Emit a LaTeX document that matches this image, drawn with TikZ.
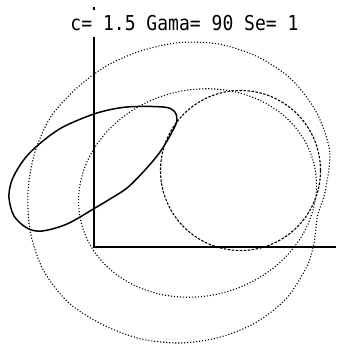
\documentclass[tikz,border=0pt]{standalone}
\usepackage{fontspec}
\newfontfamily\plotfont{DejaVu Sans Mono}[FakeStretch=0.88]
\tikzset{
  axisline/.style={line width=1.5pt},
  ellcurve/.style={line width=1.5pt,line join=round},
  dotcurve/.style={line width=1.1pt,dash pattern=on 1.1pt off 1.9pt},
  dashcurve/.style={line width=1.1pt,dash pattern=on 2.5pt off 1.5pt},
  titlelabel/.style={font=\plotfont\fontsize{20.5}{20.5}\selectfont,fill=white,inner xsep=2pt,minimum height=27pt},
}
\begin{document}
\begin{tikzpicture}[x=1pt,y=-1pt]
  \useasboundingbox (0,0) rectangle (336,344);

  \coordinate (origin) at (94,247);
  \coordinate (ytop) at (94,7);
  \coordinate (xend) at (336,247);
  \coordinate (ocenter) at (180,192);
  \coordinate (mcenter) at (197.5,193);
  \coordinate (ccenter) at (240.5,170.5);

  \draw[dotcurve,shift={(ocenter)}] plot[smooth cycle] coordinates {(0:145) (-15:155) (-30:158) (-45:158.5) (-60:156) (-75:153) (-90:149.5) (-105:146.5) (-120:146) (-135:146.5) (-150:149.5) (-165:150.5) (-180:152) (-195:155) (-210:157.5) (-225:157) (-240:153.5) (-255:152) (-270:151) (-285:150.6) (-300:151) (-315:150.5) (-330:147) (-340:143) (-350:139.5)};
  \draw[dotcurve] (mcenter) circle[x radius=120,y radius=103,rotate=15];
  \draw[dashcurve] (ccenter) circle[radius=80];

  \draw[ellcurve] plot[smooth cycle,tension=0.55] coordinates {(177,120) (172,132) (160,152) (145,170) (127,188) (110,199) (95,208) (67,224) (42,231) (27,228) (14,216) (9,198) (11,183) (17,170) (26,157) (37,146) (52,134) (67,125) (97,113) (127,107) (163,107) (174,111)};

  \draw[axisline] (ytop) -- (origin) -- (xend);

  \node[titlelabel] (title) at (184.5,23.5) {c= 1.5 Gama= 90 Se= 1};
\end{tikzpicture}
\end{document}
